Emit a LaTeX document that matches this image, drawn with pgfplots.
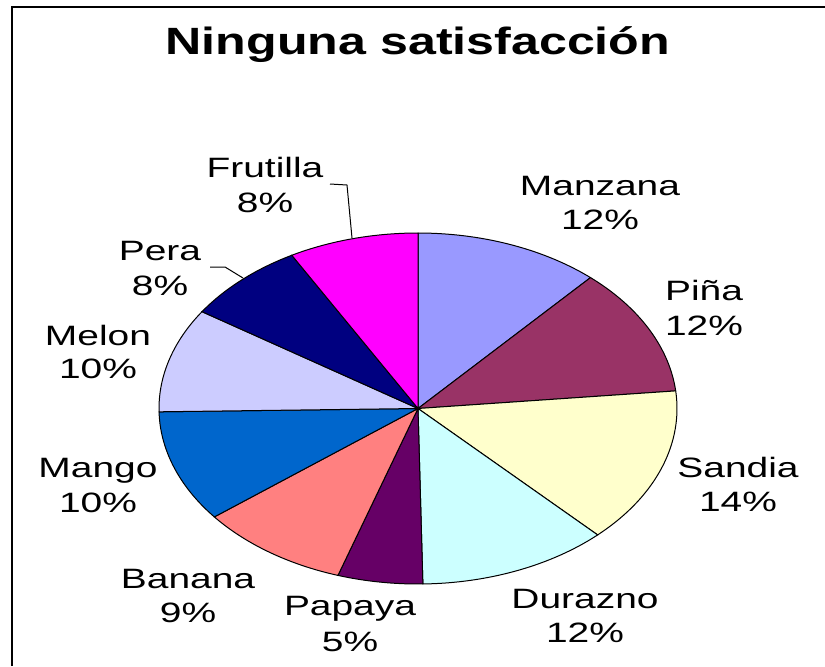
\documentclass[border=0pt]{standalone}
\usepackage{fontspec}
\setmainfont{Liberation Sans}
\usepackage{pgfplots}
\usepackage{pgfplotstable}
\pgfplotsset{compat=1.18}

\definecolor{cManzana}{HTML}{9999FF}
\definecolor{cPina}{HTML}{993366}
\definecolor{cSandia}{HTML}{FFFFCC}
\definecolor{cDurazno}{HTML}{CCFFFF}
\definecolor{cPapaya}{HTML}{660066}
\definecolor{cBanana}{HTML}{FF8080}
\definecolor{cMango}{HTML}{0066CC}
\definecolor{cMelon}{HTML}{CCCCFF}
\definecolor{cPera}{HTML}{000080}
\definecolor{cFrutilla}{HTML}{FF00FF}

% share of each fruit, clockwise from 12 o'clock
\pgfplotstableread[col sep=comma]{
name,pct,col
Manzana,11.6,cManzana
Pina,11.8,cPina
Sandia,14.4,cSandia
Durazno,11.9,cDurazno
Papaya,5.3,cPapaya
Banana,9.4,cBanana
Mango,10.3,cMango
Melon,9.6,cMelon
Pera,7.6,cPera
Frutilla,8.1,cFrutilla
}\piedata

\begin{document}
\begin{tikzpicture}
\path[use as bounding box] (0pt,0pt) rectangle (412.5pt,333pt);

\begin{axis}[
    hide axis,
    scale only axis,
    width=259pt, height=175.5pt,
    xmin=-1, xmax=1, ymin=-1, ymax=1,
    clip=false,
    anchor=center, at={(209pt,128.75pt)},
]
\pgfplotstablegetrowsof{\piedata}
\pgfmathtruncatemacro\N{\pgfplotsretval-1}
\def\cum{0}
\pgfplotsforeachungrouped \i in {0,...,\N}{
  \pgfplotstablegetelem{\i}{pct}\of\piedata \let\p\pgfplotsretval
  \pgfplotstablegetelem{\i}{col}\of\piedata \let\c\pgfplotsretval
  \pgfmathsetmacro\a{3.6*\cum}
  \pgfmathsetmacro\cum{\cum+\p}
  \pgfmathsetmacro\b{3.6*\cum}
  \edef\tmp{\noexpand\addplot[fill=\c, draw=black, line width=0.5pt,
      domain=\a:\b, samples=60] ({sin(x)},{cos(x)}) -- (axis cs:0,0) -- cycle;}
  \tmp
}
\end{axis}

% labels and frame, in pixel units of the reference
\begin{scope}[x=0.5pt, y=-0.5pt, shift={(0pt,333pt)}]
\draw[line width=1pt] (12,666) -- (12,7) -- (825,7);
\node[anchor=base, xscale=1.32, font=\fontsize{19}{22}\selectfont\bfseries] at (418,55) {Ninguna satisfacción};

\tikzset{lab/.style={anchor=base, xscale=1.39, inner sep=0pt, font=\fontsize{14}{17}\selectfont}}
\newcommand\lab[5]{\node[lab] at (#1,#2) {#4}; \node[lab] at (#1,#3) {#5};}
\lab{600}{195}{229}{Manzana}{12\%}
\lab{704}{300}{335}{Piña}{12\%}
\lab{738}{477}{511}{Sandia}{14\%}
\lab{585}{608}{642}{Durazno}{12\%}
\lab{350}{615}{651}{Papaya}{5\%}
\lab{188}{588}{622}{Banana}{9\%}
\lab{98}{477}{512}{Mango}{10\%}
\lab{98}{345}{378}{Melon}{10\%}
\lab{160}{260}{295}{Pera}{8\%}
\lab{265}{177}{212}{Frutilla}{8\%}

\draw[line width=0.5pt] (352,238) -- (347,185) -- (330,184);
\draw[line width=0.5pt] (243,278) -- (225,267) -- (210,267);
\end{scope}
\end{tikzpicture}
\end{document}
